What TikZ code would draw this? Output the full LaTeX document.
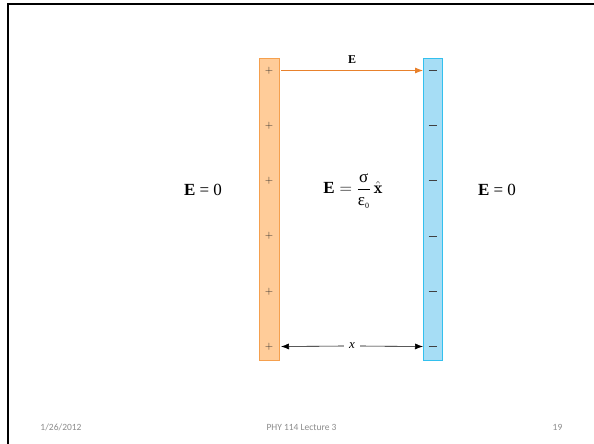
\documentclass[tikz,border=0pt]{standalone}
\usepackage{amsmath}
\usepackage{fontspec}
\newfontfamily\footfont{Carlito}
\newfontfamily\timesf{Liberation Serif}
\usetikzlibrary{arrows.meta}
\definecolor{plateorange}{HTML}{FFCC99}
\definecolor{edgeorange}{HTML}{F5A04E}
\definecolor{arroworange}{HTML}{E8812C}
\definecolor{plateblue}{HTML}{A6DDF5}
\definecolor{edgeblue}{HTML}{33C0EE}
\definecolor{footgray}{HTML}{8C8C8C}
\newcommand{\tE}{\text{\timesf\bfseries E}}
\begin{document}
\begin{tikzpicture}[x=1pt,y=-1pt,
  plateP/.style={draw=edgeorange,fill=plateorange,line width=0.9pt},
  plateN/.style={draw=edgeblue,fill=plateblue,line width=0.9pt},
  chg/.style={inner sep=0pt,text=black!85,font=\fontsize{11}{12}\selectfont},
  eq/.style={inner sep=1pt,font=\fontsize{17}{20}\selectfont},
  foot/.style={font=\footfont\fontsize{9.5}{11}\selectfont,text=footgray,inner sep=0pt}]
\useasboundingbox (0,0) rectangle (594,444);
\fill[white] (0,0) rectangle (594,444);
% slide frame
\draw[line width=2pt] (7.5,444) -- (7.5,4.5) -- (594,4.5);
% plates
\draw[plateP] (259.5,58) rectangle (279,360);
\draw[plateN] (423.5,58) rectangle (442,360);
\foreach \i in {0,...,5}{
  \node[chg] (p\i) at (269,70.5+55.2*\i) {+};
  \draw[black!75,line width=1.1pt] (428.5,70.5+55.2*\i) -- (437,70.5+55.2*\i);
  \coordinate (n\i) at (432.7,70.5+55.2*\i);
}
% field arrow
\coordinate (ea) at (281,70.5);
\coordinate (eb) at (423,70.5);
\draw[arroworange,line width=0.8pt,-{Latex[length=8pt,width=6pt]}] (ea) -- (eb);
\node[inner sep=1pt,font=\timesf\bfseries\fontsize{12}{14}\selectfont] (elab) at (352,60) {E};
% distance arrow
\coordinate (da) at (281,346.5);
\coordinate (db) at (423,346.5);
\node[inner sep=5pt,font=\timesf\itshape\fontsize{13}{15}\selectfont] (dx) at (352,346) {x};
\draw[line width=0.6pt,-{Latex[length=8pt,width=6pt]}] (dx.west) -- (da);
\draw[line width=0.6pt,-{Latex[length=8pt,width=6pt]}] (dx.east) -- (db);
% equations
\node[eq] (eleft) at (203,190) {\timesf\textbf{E} = 0};
\node[eq] (emid) at (353,191) {\timesf$\tE=\dfrac{\text{\timesf σ}}{\text{\timesf ε}_{\text{\timesf\fontsize{8}{9}\selectfont 0}}}\,\hat{\mathbf{x}}$};
\node[eq] (eright) at (497,190) {\timesf\textbf{E} = 0};
% footer
\node[foot] (date) at (61,427) {1/26/2012};
\node[foot] (title) at (301.5,427) {PHY 114 Lecture 3};
\node[foot] (num) at (557.5,427) {19};
\end{tikzpicture}
\end{document}
